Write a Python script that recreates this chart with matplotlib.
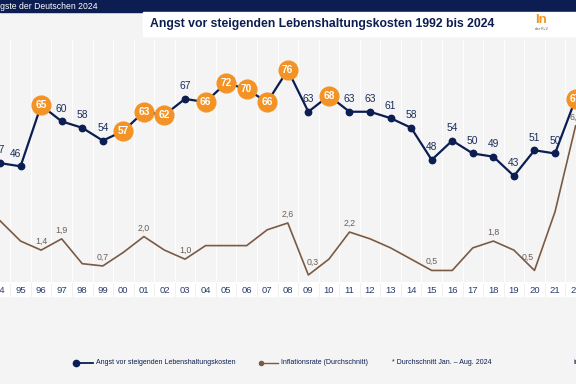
import matplotlib.pyplot as plt
from matplotlib.patches import Rectangle
from matplotlib.lines import Line2D

plt.rcParams['font.family'] = ['Liberation Sans', 'DejaVu Sans']

# Daten (Ausschnitt 1994 - 2022)
jahre = [1994, 1995, 1996, 1997, 1998, 1999, 2000, 2001, 2002, 2003, 2004, 2005, 2006, 2007,
         2008, 2009, 2010, 2011, 2012, 2013, 2014, 2015, 2016, 2017, 2018, 2019, 2020, 2021, 2022]
angst = [47, 46, 65, 60, 58, 54, 57, 63, 62, 67, 66, 72, 70, 66,
         76, 63, 68, 63, 63, 61, 58, 48, 54, 50, 49, 43, 51, 50, 67]
# Jahre, in denen die Angst auf Platz 1 lag (orange markiert)
platz1 = [1996, 2000, 2001, 2002, 2004, 2005, 2006, 2007, 2008, 2010, 2022]
inflation = [2.7, 1.8, 1.4, 1.9, 0.8, 0.7, 1.3, 2.0, 1.4, 1.0, 1.6, 1.6, 1.6, 2.3,
             2.6, 0.3, 1.0, 2.2, 1.9, 1.5, 1.0, 0.5, 0.5, 1.5, 1.8, 1.4, 0.5, 3.1, 6.9]
inflation_label = {1996: '1,4', 1997: '1,9', 1999: '0,7', 2001: '2,0', 2003: '1,0', 2008: '2,6',
                   2009: '0,3', 2011: '2,2', 2015: '0,5', 2018: '1,8', 2020: '0,5', 2022: '6,9'}
tick_labels = ['%02d' % (j % 100) for j in jahre]

navy = '#0b1d51'
orange = '#f39325'
braun = '#7b5a44'
braun_text = '#6d5d55'
bg = '#f4f4f4'

fig = plt.figure(figsize=(5.76, 3.84), dpi=100)
fig.patch.set_facecolor(bg)

# Kopfzeile
fig.patches.append(Rectangle((0, 1 - 12/384), 1, 12/384, transform=fig.transFigure,
                             color=navy, zorder=-1))
fig.text(98/576, 1 - 6/384, 'Die Ängste der Deutschen 2024', color='white', fontsize=6.2,
         ha='right', va='center')
fig.patches.append(Rectangle((143/576, 1 - 36/384), 433/576, 24/384, transform=fig.transFigure,
                             color='white', zorder=-1))
fig.text(150/576, 1 - 24/384, 'Angst vor steigenden Lebenshaltungskosten 1992 bis 2024',
         color=navy, fontsize=8.8, fontweight='bold', ha='left', va='center')
fig.text(535/576, 1 - 20/384, 'In', color=orange, fontsize=9.5, fontweight='bold',
         ha='left', va='center')
fig.text(535/576, 1 - 29/384, 'der R+V', color='#555555', fontsize=2.5,
         ha='left', va='center')

# Band hinter den Jahreszahlen
fig.patches.append(Rectangle((0, (384 - 296)/384), 1, 14/384, transform=fig.transFigure,
                             color='white', zorder=-1))

ax = fig.add_axes([0, 102/384, 1, 242/384])
ax.set_facecolor(bg)
ax.set_xlim(1994.13, 2022.02)
ax.set_ylim(9.96, 85.35)
for s in ax.spines.values():
    s.set_visible(False)
ax.set_yticks([])
ax.set_xticks(jahre)
ax.set_xticklabels(tick_labels)
ax.tick_params(axis='x', length=0, pad=3, labelsize=6.8, labelcolor='#2b3b6b')

# senkrechte Hilfslinien zwischen den Jahren
for j in jahre:
    ax.axvline(j + 0.5, color='white', lw=0.7, zorder=0)
    ax.plot([j + 0.5, j + 0.5], [-0.005, -0.058], transform=ax.get_xaxis_transform(),
            color='#f0f0f0', lw=0.7, clip_on=False, zorder=0)

# Angst-Linie
ax.plot(jahre, angst, color=navy, lw=1.6, zorder=3)
for j, v in zip(jahre, angst):
    if j in platz1:
        ax.plot(j, v, 'o', ms=13.5, color=orange, mec=orange, zorder=4)
        ax.text(j, v, str(v), color='white', fontsize=7.3, fontweight='bold',
                ha='center', va='center', zorder=5)
    else:
        ax.plot(j, v, 'o', ms=4.6, color=navy, zorder=4)
        dx = -4 if j == 1995 else 0
        ax.annotate(str(v), (j, v), xytext=(dx, 5.5), textcoords='offset points',
                    ha='center', va='bottom', color='#1c2d5a', fontsize=7.4, zorder=5)

# Inflationsrate auf zweiter Achse
ax2 = ax.twinx()
ax2.set_ylim(-0.011, 10.70)
ax2.set_yticks([])
for s in ax2.spines.values():
    s.set_visible(False)
ax2.plot(jahre, inflation, color=braun, lw=1.2, zorder=2)
versatz = {2009: (3, 6), 2020: (-5, 6), 2015: (0, 3)}
for j, v in zip(jahre, inflation):
    if j in inflation_label:
        dx, dy = versatz.get(j, (0, 3))
        ax2.annotate(inflation_label[j], (j, v), xytext=(dx, dy), textcoords='offset points',
                     ha='center', va='bottom', color=braun_text, fontsize=6.3)

# Legende
ly = (384 - 363)/384
fig.add_artist(Line2D([76/576, 93/576], [ly, ly], color=navy, lw=1.3,
                      marker='o', ms=4.5, markevery=[0], transform=fig.transFigure))
fig.text(96/576, ly, 'Angst vor steigenden Lebenshaltungskosten', color=navy, fontsize=5,
         ha='left', va='center')
fig.add_artist(Line2D([261/576, 278/576], [ly, ly], color=braun, lw=1.0,
                      marker='o', ms=3, markevery=[0], transform=fig.transFigure))
fig.text(281/576, ly, 'Inflationsrate (Durchschnitt)', color=navy, fontsize=5,
         ha='left', va='center')
fig.text(392/576, ly, '* Durchschnitt Jan. – Aug. 2024', color=navy, fontsize=5,
         ha='left', va='center')
fig.text(574/576, ly, 'infocenter.ruv.de', color=navy, fontsize=5,
         ha='left', va='center')

fig.savefig('out.png', dpi=100, facecolor=bg)
